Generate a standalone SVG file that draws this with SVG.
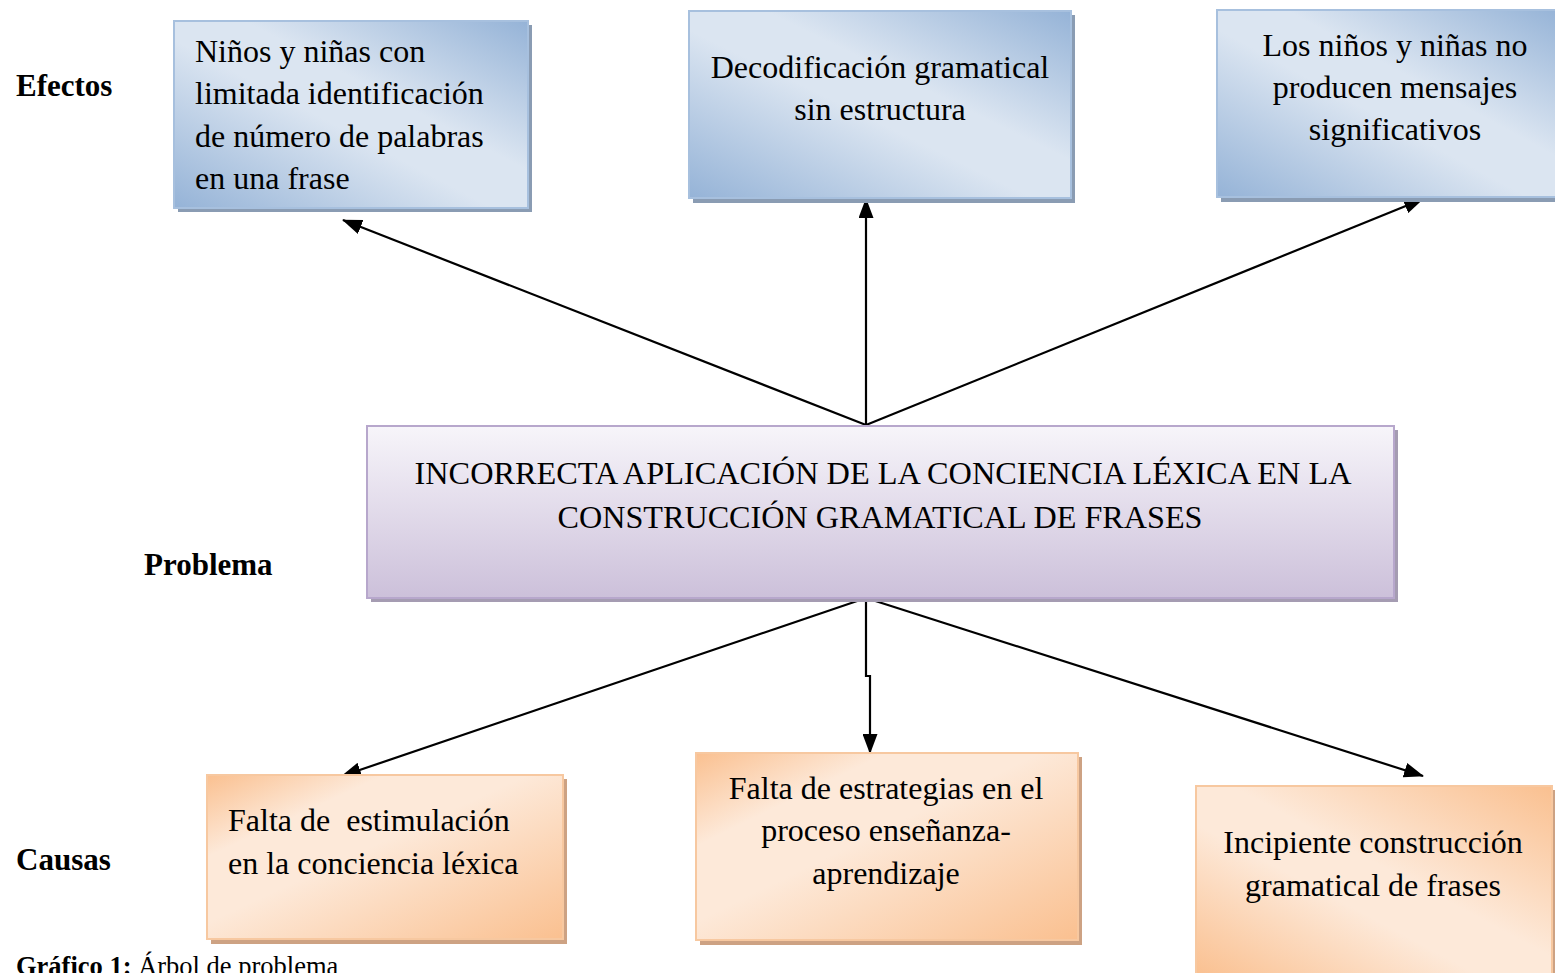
<svg xmlns="http://www.w3.org/2000/svg" width="1555" height="973" viewBox="0 0 1555 973">
<defs>
<linearGradient id="gBlue" x1="0" y1="1" x2="1" y2="0">
<stop offset="0" stop-color="#95b3d7"/>
<stop offset="0.45" stop-color="#dbe5f1"/>
<stop offset="0.6" stop-color="#dbe5f1"/>
<stop offset="1" stop-color="#95b3d7"/>
</linearGradient>
<linearGradient id="gPurple" x1="0" y1="0" x2="0" y2="1">
<stop offset="0" stop-color="#f7f5fa"/>
<stop offset="1" stop-color="#ccc0da"/>
</linearGradient>
<linearGradient id="gOrange" x1="0" y1="0" x2="1" y2="1">
<stop offset="0" stop-color="#fac090"/>
<stop offset="0.25" stop-color="#fde9d9"/>
<stop offset="0.45" stop-color="#fde9d9"/>
<stop offset="1" stop-color="#fac090"/>
</linearGradient>
<linearGradient id="gOrange2" x1="1" y1="0" x2="0" y2="1">
<stop offset="0" stop-color="#fac090"/>
<stop offset="0.45" stop-color="#fde9d9"/>
<stop offset="0.6" stop-color="#fde9d9"/>
<stop offset="1" stop-color="#fac090"/>
</linearGradient>
<marker id="arrB" viewBox="0 0 20 15" refX="19" refY="7.5" markerWidth="20" markerHeight="15" orient="auto" markerUnits="userSpaceOnUse">
<path d="M0,0 L20,7.5 L0,15 Z" fill="#000"/>
</marker>
</defs>
<style>
.t{font-family:"Liberation Serif","Times New Roman",serif;font-size:32px;fill:#000;white-space:pre}
.c{text-anchor:middle}
.lab{font-family:"Liberation Serif","Times New Roman",serif;font-size:31px;font-weight:bold;fill:#000}
.sb{fill:#8a9cb3}
.sp{fill:#a59cb2}
.so{fill:#cda283}
.bb{stroke:#a7c0de;stroke-width:2}
.bp{stroke:#b7a7cc;stroke-width:2}
.bo{stroke:#f7c8a0;stroke-width:2}
.ln{stroke:#000;stroke-width:2.2;fill:none}
</style>

<g id="labels">
<text class="lab" x="16" y="96">Efectos</text>
<text class="lab" x="144" y="575">Problema</text>
<text class="lab" x="16" y="870">Causas</text>
<text x="16" y="975" style="font-family:'Liberation Serif','Times New Roman',serif;font-size:26.5px"><tspan font-weight="bold">Gráfico 1:</tspan> Árbol de problema</text>
</g>

<g id="connectors">
<line class="ln" x1="866" y1="425" x2="343" y2="220" marker-end="url(#arrB)"/>
<line class="ln" x1="866" y1="425" x2="866" y2="199" marker-end="url(#arrB)"/>
<line class="ln" x1="866" y1="425" x2="1423" y2="199" marker-end="url(#arrB)"/>
<line class="ln" x1="866" y1="598" x2="342" y2="776" marker-end="url(#arrB)"/>
<polyline class="ln" points="866,598 866,676 870,676 870,753" marker-end="url(#arrB)"/>
<line class="ln" x1="866" y1="598" x2="1423" y2="776" marker-end="url(#arrB)"/>
</g>

<g id="effect1">
<rect class="sb" x="178" y="25" width="354" height="187"/>
<rect class="bb" x="174" y="21" width="354" height="187" fill="url(#gBlue)"/>
<text class="t" x="195" y="62">Niños y niñas con</text>
<text class="t" x="195" y="104">limitada identificación</text>
<text class="t" x="195" y="147">de número de palabras</text>
<text class="t" x="195" y="189">en una frase</text>
</g>

<g id="effect2">
<rect class="sb" x="693" y="15" width="382" height="188"/>
<rect class="bb" x="689" y="11" width="382" height="187" fill="url(#gBlue)"/>
<text class="t c" x="880" y="78">Decodificación gramatical</text>
<text class="t c" x="880" y="120">sin estructura</text>
</g>

<g id="effect3">
<rect class="sb" x="1221" y="14" width="340" height="188"/>
<rect class="bb" x="1217" y="10" width="345" height="187" fill="url(#gBlue)"/>
<text class="t c" x="1395" y="56">Los niños y niñas no</text>
<text class="t c" x="1395" y="98">producen mensajes</text>
<text class="t c" x="1395" y="140">significativos</text>
</g>

<g id="problem">
<rect class="sp" x="371" y="430" width="1027" height="172"/>
<rect class="bp" x="367" y="426" width="1027" height="172" fill="url(#gPurple)"/>
<text class="t c" x="883" y="484" textLength="937" lengthAdjust="spacingAndGlyphs">INCORRECTA APLICACIÓN DE LA CONCIENCIA LÉXICA EN LA</text>
<text class="t c" x="880" y="528" textLength="645" lengthAdjust="spacingAndGlyphs">CONSTRUCCIÓN GRAMATICAL DE FRASES</text>
</g>

<g id="cause1">
<rect class="so" x="211" y="779" width="356" height="165"/>
<rect class="bo" x="207" y="775" width="356" height="164" fill="url(#gOrange)"/>
<text class="t" x="228" y="831">Falta de  estimulación</text>
<text class="t" x="228" y="874">en la conciencia léxica</text>
</g>

<g id="cause2">
<rect class="so" x="700" y="757" width="382" height="188"/>
<rect class="bo" x="696" y="753" width="382" height="187" fill="url(#gOrange)"/>
<text class="t c" x="886" y="799">Falta de estrategias en el</text>
<text class="t c" x="886" y="841">proceso enseñanza-</text>
<text class="t c" x="886" y="884">aprendizaje</text>
</g>

<g id="cause3">
<rect class="so" x="1200" y="790" width="356" height="190"/>
<rect class="bo" x="1196" y="786" width="356" height="190" fill="url(#gOrange2)"/>
<text class="t c" x="1373" y="853">Incipiente construcción</text>
<text class="t c" x="1373" y="896">gramatical de frases</text>
</g>
</svg>
